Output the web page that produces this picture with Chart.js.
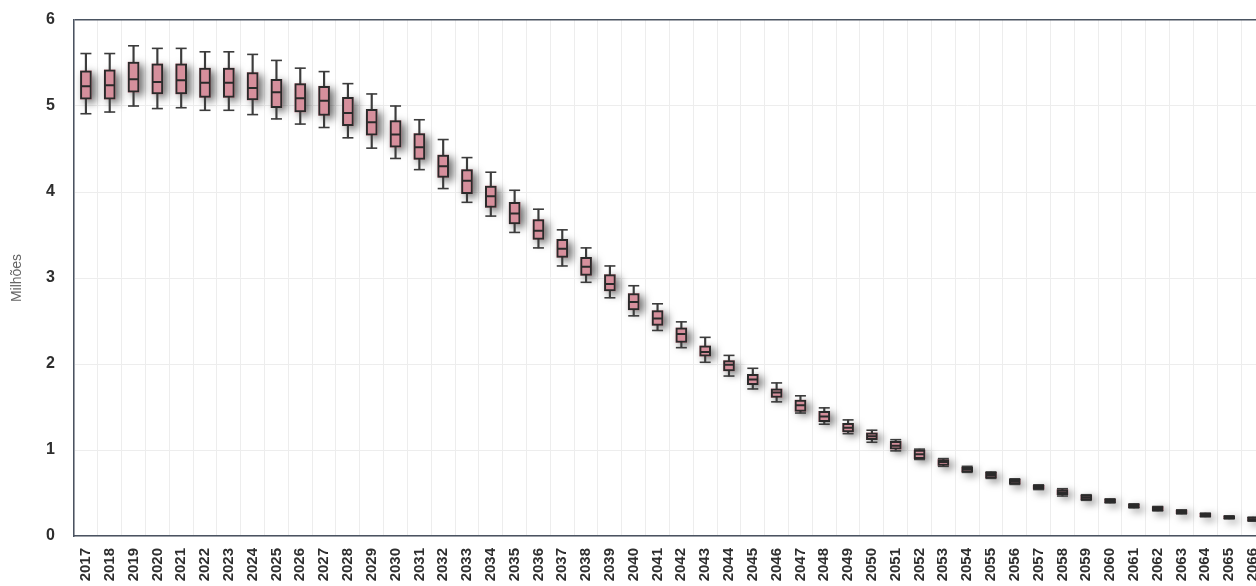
<!DOCTYPE html>
<html>
<head>
<meta charset="utf-8">
<script src="https://cdn.jsdelivr.net/npm/chart.js@4.4.1/dist/chart.umd.min.js"></script>
<style>
html,body{margin:0;padding:0;overflow:hidden;background:#ffffff;}
#wrap{width:1272px;height:586px;position:relative;}
canvas{display:block;}
</style>
</head>
<body>
<div id="wrap"><canvas id="c" width="1272" height="586" style="width:1272px;height:586px"></canvas></div>
<script>
const years = ['2017','2018','2019','2020','2021','2022','2023','2024','2025','2026',
  '2027','2028','2029','2030','2031','2032','2033','2034','2035','2036',
  '2037','2038','2039','2040','2041','2042','2043','2044','2045','2046',
  '2047','2048','2049','2050','2051','2052','2053','2054','2055','2056',
  '2057','2058','2059','2060','2061','2062','2063','2064','2065','2066'];

const whiskerHigh = [5.61,5.61,5.70,5.67,5.67,5.63,5.63,5.60,5.53,5.44,
  5.40,5.26,5.14,5.00,4.84,4.61,4.40,4.23,4.02,3.80,
  3.56,3.35,3.14,2.91,2.70,2.49,2.31,2.10,1.95,1.78,
  1.63,1.49,1.35,1.23,1.12,1.01,0.90,0.81,0.745,0.665,
  0.595,0.55,0.48,0.432,0.374,0.343,0.304,0.266,0.235,0.219];

const q3 = [5.41,5.42,5.51,5.49,5.49,5.44,5.44,5.39,5.31,5.26,
  5.23,5.10,4.96,4.83,4.68,4.43,4.26,4.07,3.88,3.68,
  3.45,3.24,3.04,2.82,2.62,2.42,2.21,2.04,1.88,1.71,
  1.58,1.45,1.31,1.20,1.10,1.00,0.89,0.80,0.74,0.66,
  0.59,0.54,0.475,0.43,0.372,0.341,0.302,0.264,0.233,0.217];

const median = [5.23,5.24,5.31,5.28,5.30,5.27,5.27,5.21,5.16,5.09,
  5.06,4.92,4.81,4.67,4.52,4.30,4.13,3.95,3.75,3.55,
  3.34,3.13,2.93,2.72,2.53,2.35,2.14,1.99,1.82,1.67,
  1.52,1.39,1.26,1.16,1.05,0.95,0.86,0.78,0.71,0.635,
  0.57,0.51,0.448,0.408,0.35,0.318,0.28,0.244,0.217,0.195];

const q1 = [5.08,5.08,5.16,5.14,5.14,5.10,5.10,5.07,4.98,4.93,
  4.89,4.77,4.66,4.52,4.38,4.17,3.98,3.82,3.63,3.45,
  3.24,3.03,2.85,2.63,2.45,2.25,2.09,1.92,1.76,1.61,
  1.45,1.33,1.21,1.12,1.01,0.90,0.82,0.745,0.675,0.605,
  0.545,0.48,0.42,0.388,0.33,0.295,0.26,0.226,0.202,0.175];

const whiskerLow = [4.91,4.93,5.00,4.97,4.98,4.95,4.95,4.90,4.85,4.79,
  4.75,4.63,4.51,4.39,4.26,4.04,3.88,3.72,3.53,3.35,
  3.14,2.95,2.77,2.56,2.39,2.19,2.02,1.86,1.71,1.56,
  1.43,1.30,1.19,1.09,0.99,0.89,0.81,0.74,0.67,0.60,
  0.54,0.465,0.415,0.385,0.327,0.292,0.257,0.223,0.199,0.172];

const yTicks = [0,1,2,3,4,5,6];
const yTitle = 'Milhões';

const boxRanges = q1.map((v, i) => [v, q3[i]]);
const whiskerRanges = whiskerLow.map((v, i) => [v, whiskerHigh[i]]);

const SHADOW_INDEX = 0;
const boxShadow = {
  id: 'boxShadow',
  beforeDatasetDraw(chart, args) {
    if (args.index === SHADOW_INDEX) {
      const ctx = chart.ctx;
      ctx.save();
      ctx.shadowColor = 'rgba(0,0,0,0.6)';
      ctx.shadowBlur = 8;
      ctx.shadowOffsetX = 4;
      ctx.shadowOffsetY = 3;
    }
  },
  afterDatasetDraw(chart, args) {
    if (args.index === SHADOW_INDEX) chart.ctx.restore();
  }
};

new Chart(document.getElementById('c'), {
  type: 'bar',
  data: {
    labels: years,
    datasets: [
      {
        label: 'shadow',
        data: boxRanges,
        backgroundColor: '#d68f9c',
        borderWidth: 0,
        barThickness: 11,
        grouped: false,
        order: 5
      },
      {
        label: 'whisker',
        data: whiskerRanges,
        backgroundColor: '#3c3c3c',
        borderWidth: 0,
        barThickness: 1.5,
        grouped: false,
        order: 4
      },
      {
        type: 'line',
        label: 'capHigh',
        data: whiskerHigh,
        showLine: false,
        pointStyle: 'line',
        pointRadius: 5.5,
        pointBorderWidth: 1.6,
        pointBorderColor: '#3c3c3c',
        order: 3
      },
      {
        type: 'line',
        label: 'capLow',
        data: whiskerLow,
        showLine: false,
        pointStyle: 'line',
        pointRadius: 5.5,
        pointBorderWidth: 1.6,
        pointBorderColor: '#3c3c3c',
        order: 3
      },
      {
        label: 'box',
        data: boxRanges,
        backgroundColor: '#d68f9c',
        borderColor: '#2a2a2a',
        borderWidth: 2,
        borderSkipped: false,
        barThickness: 11,
        grouped: false,
        order: 2
      },
      {
        type: 'line',
        label: 'median',
        data: median,
        showLine: false,
        pointStyle: 'line',
        pointRadius: 4.5,
        pointBorderWidth: 2,
        pointBorderColor: '#2a2a2a',
        order: 1
      }
    ]
  },
  options: {
    responsive: false,
    maintainAspectRatio: false,
    devicePixelRatio: 1,
    animation: false,
    layout: { padding: { top: 20, right: 0, left: 0, bottom: 0 } },
    plugins: { legend: { display: false }, tooltip: { enabled: false } },
    scales: {
      x: {
        type: 'category',
        offset: true,
        grid: { display: true, offset: true, color: '#ededed', lineWidth: 1, drawTicks: false },
        border: { display: true, color: '#4a5361', width: 1.5 },
        ticks: {
          autoSkip: false, minRotation: 90, maxRotation: 90, padding: 12,
          color: '#2e2e2e',
          font: { family: 'Liberation Sans', size: 15, weight: 'bold' }
        },
        afterFit(scale) { scale.height = 50; scale.paddingLeft = 0; scale.paddingRight = 0; }
      },
      y: {
        min: 0, max: 6,
        afterBuildTicks(scale) { scale.ticks = yTicks.map(v => ({ value: v })); },
        grid: {
          drawTicks: false,
          color: (c) => (c.tick && c.tick.value === 6) ? '#4a5361' : '#ededed',
          lineWidth: (c) => (c.tick && c.tick.value === 6) ? 1.5 : 1
        },
        border: { display: true, color: '#4a5361', width: 1.5 },
        ticks: {
          padding: 19,
          color: '#2e2e2e',
          font: { family: 'Liberation Sans', size: 16, weight: 'bold' }
        },
        title: {
          display: true, text: yTitle, color: '#666666',
          padding: { top: 9, bottom: 0 },
          font: { family: 'Liberation Sans', size: 14, weight: 'normal' }
        },
        afterFit(scale) { scale.width = 74; scale.paddingTop = 0; scale.paddingBottom = 0; }
      }
    }
  },
  plugins: [boxShadow]
});
</script>
</body>
</html>
